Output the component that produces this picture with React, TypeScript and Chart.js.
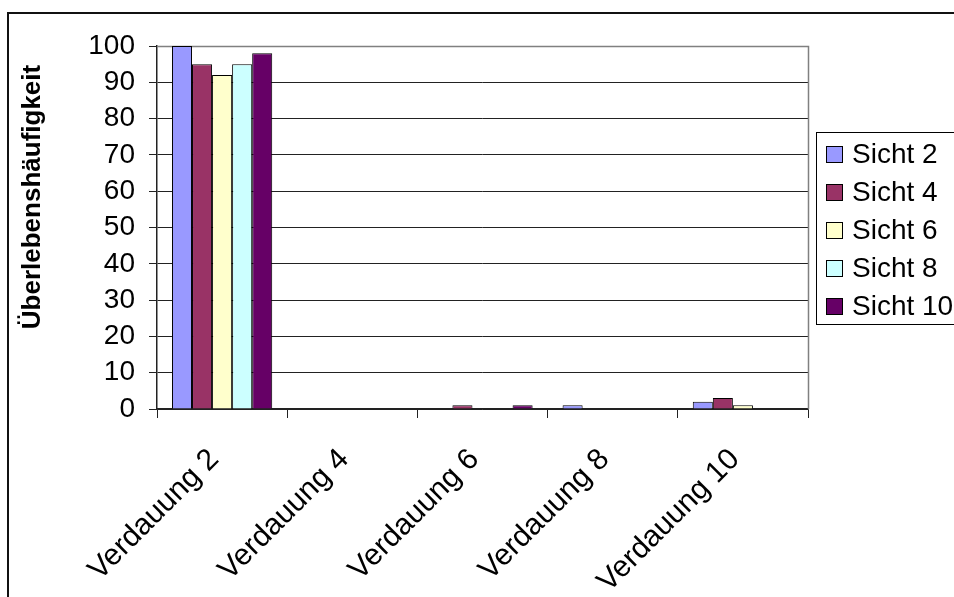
import React, { useEffect, useRef } from "react";
import { Chart, registerables } from "chart.js";

Chart.register(...registerables);

const categories = ["Verdauung 2", "Verdauung 4", "Verdauung 6", "Verdauung 8", "Verdauung 10"];
const seriesNames = ["Sicht 2", "Sicht 4", "Sicht 6", "Sicht 8", "Sicht 10"];
const sicht2 = [100, 0, 0, 1, 2];
const sicht4 = [95, 0, 1, 0, 3];
const sicht6 = [92, 0, 0, 0, 1];
const sicht8 = [95, 0, 0, 0, 0];
const sicht10 = [98, 0, 1, 0, 0];
const seriesColors = ["#9999FF", "#993366", "#FFFFCC", "#CCFFFF", "#660066"];
const yMin = 0;
const yMax = 100;
const yStep = 10;
const yAxisTitle = "Überlebenshäufigkeit";

const FONT = "'Liberation Sans', Arial, sans-serif";
const W = 954;
const H = 597;

export default function App() {
  const ref = useRef<HTMLCanvasElement | null>(null);

  useEffect(() => {
    const canvas = ref.current;
    if (!canvas) return;
    const values = [sicht2, sicht4, sicht6, sicht8, sicht10];

    const framePlugin = {
      id: "frame",
      beforeDraw(chart: any) {
        const ctx = chart.ctx;
        ctx.save();
        ctx.fillStyle = "#ffffff";
        ctx.fillRect(0, 0, W, H);
        ctx.fillStyle = "#111111";
        ctx.fillRect(8, 12, W - 8, 2);
        ctx.fillRect(7, 12, 2, H - 12);
        ctx.restore();
      },
      beforeDatasetsDraw(chart: any) {
        const { ctx, chartArea } = chart;
        ctx.save();
        ctx.strokeStyle = "#808080";
        ctx.lineWidth = 1.5;
        ctx.beginPath();
        ctx.moveTo(chartArea.left, chartArea.top + 0.5);
        ctx.lineTo(chartArea.right + 0.5, chartArea.top + 0.5);
        ctx.lineTo(chartArea.right + 0.5, chartArea.bottom);
        ctx.stroke();
        ctx.restore();
      },
      afterDraw(chart: any) {
        const ctx = chart.ctx;
        ctx.save();
        // axis title
        ctx.save();
        ctx.translate(33, 197);
        ctx.rotate(-Math.PI / 2);
        ctx.font = `bold 26px ${FONT}`;
        ctx.fillStyle = "#000000";
        ctx.textAlign = "center";
        ctx.textBaseline = "middle";
        ctx.fillText(yAxisTitle, 0, 0);
        ctx.restore();
        // legend box
        ctx.strokeStyle = "#000000";
        ctx.lineWidth = 1;
        ctx.strokeRect(816.5, 132.5, 220, 192);
        ctx.font = `28px ${FONT}`;
        ctx.textBaseline = "middle";
        ctx.textAlign = "left";
        chart.data.datasets.forEach((ds: any, i: number) => {
          const cy = 154 + i * 38;
          ctx.fillStyle = ds.backgroundColor;
          ctx.fillRect(826, cy - 8, 16, 16);
          ctx.strokeStyle = "#000000";
          ctx.strokeRect(826.5, cy - 7.5, 16, 16);
          ctx.fillStyle = "#000000";
          ctx.fillText(ds.label, 852, cy + 1);
        });
        ctx.restore();
      },
    };

    const chart = new Chart(canvas, {
      type: "bar",
      data: {
        labels: categories,
        datasets: seriesNames.map((name, i) => ({
          label: name,
          data: values[i],
          backgroundColor: seriesColors[i],
          borderColor: "#000000",
          borderWidth: 1,
          categoryPercentage: 0.77,
          barPercentage: 1,
        })),
      },
      options: {
        responsive: false,
        animation: false,
        devicePixelRatio: 1,
        layout: { padding: { top: 46, right: W - 808, bottom: 0, left: 0 } },
        plugins: {
          legend: { display: false },
          tooltip: { enabled: false },
          title: { display: false },
        },
        scales: {
          x: {
            offset: true,
            grid: {
              display: true,
              offset: true,
              drawOnChartArea: false,
              drawTicks: true,
              tickLength: 9,
              color: "#222222",
            },
            border: { display: true, color: "#222222", width: 1.5 },
            ticks: {
              color: "#000000",
              font: { family: FONT, size: 30 },
              maxRotation: 45,
              minRotation: 45,
              padding: 24,
              labelOffset: -8,
              autoSkip: false,
            },
            afterFit(scale: any) {
              scale.height = H - 409;
            },
          },
          y: {
            min: yMin,
            max: yMax,
            grid: {
              display: true,
              color: "#222222",
              lineWidth: 1,
              tickLength: 8,
              drawTicks: true,
            },
            border: { display: true, color: "#222222", width: 1.5 },
            ticks: {
              stepSize: yStep,
              autoSkip: false,
              color: "#000000",
              font: { family: FONT, size: 28 },
              padding: 14,
            },
            afterFit(scale: any) {
              scale.width = 157;
            },
          },
        },
      },
      plugins: [framePlugin],
    });

    return () => chart.destroy();
  }, []);

  return (
    <div style={{ position: "absolute", left: 0, top: 0, width: W, height: H, background: "#fff" }}>
      <canvas ref={ref} width={W} height={H} style={{ display: "block", width: W, height: H }} />
    </div>
  );
}
